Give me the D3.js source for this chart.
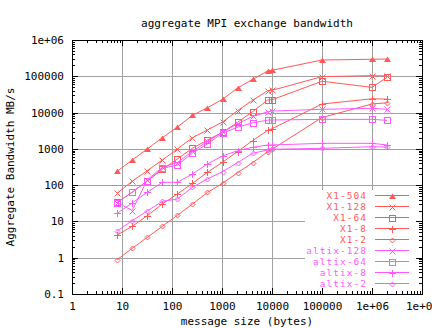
<!DOCTYPE html>
<html><head><meta charset="utf-8">
<script src="https://cdn.jsdelivr.net/npm/d3@7"></script>
<style>
body{margin:0;background:#fff}
svg{display:block}
text{font-family:"DejaVu Sans Mono","Liberation Mono",monospace;font-size:11px;fill:#000}
</style>
</head><body>
<svg id="chart" width="432" height="328"></svg>
<script>
// ---- data ----
const messageSizes = [8,16,32,64,128,256,512,1024,2048,4096,8192,10000,100000,1000000,2000000];
const x1_504   = [240,493,990,2030,4000,8400,13600,23200,47500,82000,140000,146000,281000,294000,299000];
const x1_128   = [60,128,250,493,990,2030,3310,5500,11300,21800,40100,41000,97700,104000,102000];
const x1_64    = [33.6,64,130,270,525,1040,1750,2860,5390,10600,22200,22500,73000,49500,93600];
const x1_8     = [4.23,7.33,14.4,30.2,57,112,226,426,845,1680,3240,3590,17200,24000,23500];
const x1_2     = [0.88,1.82,3.65,7.33,14.8,30,63,112,220,416,835,973,7300,17200,18700];
const altix_128= [33,20,140,310,420,850,1600,2900,4900,7800,10500,11000,12300,13100,12300];
const altix_64 = [33,64,130,290,360,760,1380,2700,3950,5200,6200,6250,6500,6500,6100];
const altix_8  = [16.7,32.2,63.5,120,120,203,383,636,890,1100,1280,1280,1420,1420,1280];
const altix_2  = [5.45,10.5,19.4,35.8,41.5,87.3,148,235,416,755,931,973,1035,1148,1110];
const seriesNames = ["X1-504","X1-128","X1-64","X1-8","X1-2","altix-128","altix-64","altix-8","altix-2"];
const seriesValues = [x1_504,x1_128,x1_64,x1_8,x1_2,altix_128,altix_64,altix_8,altix_2];
const xTickValues = [1,10,100,1000,10000,100000,1000000,10000000];
const xTickLabels = ["1","10","100","1000","10000","100000","1e+06","1e+07"];
const yTickValues = [0.1,1,10,100,1000,10000,100000,1000000];
const yTickLabels = ["0.1","1","10","100","1000","10000","100000","1e+06"];
const titleText = "aggregate MPI exchange bandwidth";
const xTitle = "message size (bytes)";
const yTitle = "Aggregate Bandwidth MB/s";

// ---- styles ----
const RED = "#ff5858", MAG = "#ff58ff";
const colors = [RED,RED,RED,RED,RED,MAG,MAG,MAG,MAG];
const markers = ["tri","cross","square","plus","diamond","cross","square","plus","diamond"];

const L=72, R=422, T=40, B=294;
const svg = d3.select("#chart");
const x = d3.scaleLog().domain([1,1e7]).range([L,R]);
const y = d3.scaleLog().domain([0.1,1e6]).range([B,T]);
const px = v => Math.round(x(v)) + 0.5;
const py = v => Math.round(y(v)) + 0.5;

// grid
const grid = svg.append("g").attr("stroke","#a0a0a0").attr("stroke-width",1).attr("shape-rendering","crispEdges");
xTickValues.slice(1,-1).forEach(v=>{
  grid.append("line").attr("x1",px(v)).attr("x2",px(v)).attr("y1",T).attr("y2",B);
});
yTickValues.slice(1,-1).forEach(v=>{
  grid.append("line").attr("x1",L).attr("x2",R).attr("y1",py(v)).attr("y2",py(v));
});
// key area blanks the grid
svg.append("rect").attr("x",305).attr("y",190).attr("width",116).attr("height",98).attr("fill","#fff");

// minor ticks
const minorX = [], minorY = [];
for (let e=0;e<7;e++) for (let k=2;k<=9;k++) minorX.push(k*Math.pow(10,e));
for (let e=-1;e<6;e++) for (let k=2;k<=9;k++) minorY.push(+(k*Math.pow(10,e)).toPrecision(3));

function axisGroup(axis, tx, ty){
  const g = svg.append("g").attr("transform",`translate(${tx},${ty})`).call(axis);
  g.select(".domain").remove();
  g.selectAll("line").attr("stroke","#000").attr("shape-rendering","crispEdges");
  g.selectAll("text").style("font-family",'"DejaVu Sans Mono","Liberation Mono",monospace').style("font-size","11px").attr("fill","#000");
  return g;
}
// bottom
axisGroup(d3.axisBottom(x).tickValues(xTickValues).tickSizeInner(-6).tickSizeOuter(0).tickPadding(8)
  .tickFormat((d,i)=>xTickLabels[i]), 0, B);
axisGroup(d3.axisBottom(x).tickValues(minorX).tickSizeInner(-3).tickSizeOuter(0).tickFormat(""), 0, B);
// top
axisGroup(d3.axisTop(x).tickValues(xTickValues).tickSizeInner(-6).tickSizeOuter(0).tickFormat(""), 0, T);
axisGroup(d3.axisTop(x).tickValues(minorX).tickSizeInner(-3).tickSizeOuter(0).tickFormat(""), 0, T);
// left
axisGroup(d3.axisLeft(y).tickValues(yTickValues).tickSizeInner(-6).tickSizeOuter(0).tickPadding(8)
  .tickFormat((d,i)=>yTickLabels[i]), L, 0);
axisGroup(d3.axisLeft(y).tickValues(minorY).tickSizeInner(-3).tickSizeOuter(0).tickFormat(""), L, 0);
// right
axisGroup(d3.axisRight(y).tickValues(yTickValues).tickSizeInner(-6).tickSizeOuter(0).tickFormat(""), R, 0);
axisGroup(d3.axisRight(y).tickValues(minorY).tickSizeInner(-3).tickSizeOuter(0).tickFormat(""), R, 0);

// border
svg.append("rect").attr("x",L+0.5).attr("y",T+0.5).attr("width",R-L).attr("height",B-T)
  .attr("fill","none").attr("stroke","#000").attr("stroke-width",1).attr("shape-rendering","crispEdges");

// titles
svg.append("text").attr("x",(L+R)/2).attr("y",27).attr("text-anchor","middle").text(titleText);
svg.append("text").attr("x",(L+R)/2).attr("y",325).attr("text-anchor","middle").text(xTitle);
svg.append("text").attr("transform",`translate(14,${(T+B)/2}) rotate(-90)`).attr("text-anchor","middle").text(yTitle);

// markers
function drawMarker(g, type, cx, cy, color){
  cx = Math.round(cx)+0.5; cy = Math.round(cy)+0.5;
  if (type==="tri"){
    g.append("path").attr("d",`M${cx-3.5},${cy+2.5}L${cx+3.5},${cy+2.5}L${cx},${cy-3}Z`).attr("fill",color).attr("stroke","none");
  } else if (type==="cross"){
    g.append("path").attr("d",`M${cx-3},${cy-3}L${cx+3},${cy+3}M${cx-3},${cy+3}L${cx+3},${cy-3}`).attr("stroke",color).attr("fill","none");
  } else if (type==="square"){
    g.append("rect").attr("x",cx-3).attr("y",cy-3).attr("width",6).attr("height",6).attr("stroke",color).attr("fill","none").attr("shape-rendering","crispEdges");
  } else if (type==="plus"){
    g.append("path").attr("d",`M${cx-3.5},${cy}L${cx+3.5},${cy}M${cx},${cy-3.5}L${cx},${cy+3.5}`).attr("stroke",color).attr("fill","none").attr("shape-rendering","crispEdges");
  } else if (type==="diamond"){
    g.append("path").attr("d",`M${cx-2.5},${cy}L${cx},${cy-2.5}L${cx+2.5},${cy}L${cx},${cy+2.5}Z`).attr("stroke",color).attr("fill","none");
  }
}

const line = d3.line().x(d=>x(d[0])).y(d=>y(d[1]));
seriesValues.forEach((vals,si)=>{
  const g = svg.append("g");
  const pts = messageSizes.map((m,i)=>[m,vals[i]]);
  g.append("path").attr("d",line(pts)).attr("fill","none").attr("stroke",colors[si]).attr("stroke-width",1);
  pts.forEach(p=>drawMarker(g, markers[si], x(p[0]), y(p[1]), colors[si]));
});

// legend
const key = svg.append("g");
seriesNames.forEach((name,i)=>{
  const ly = 195.5 + 11*i;
  key.append("text").attr("x",367).attr("y",ly+3.5).attr("text-anchor","end")
    .style("fill",colors[i]).style("font-size","9.4px").style("letter-spacing","1.1px").text(name);
  key.append("line").attr("x1",375).attr("x2",409).attr("y1",ly).attr("y2",ly).attr("stroke",colors[i]).attr("shape-rendering","crispEdges");
  drawMarker(key, markers[i], 392, ly, colors[i]);
});
</script>
</body></html>
